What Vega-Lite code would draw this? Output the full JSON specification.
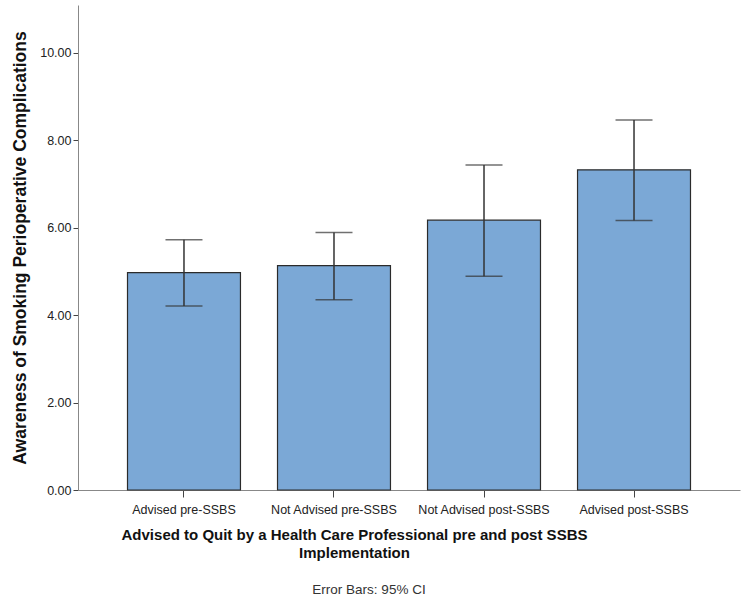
{
  "$schema": "https://vega.github.io/schema/vega-lite/v6.json",
  "width": 662,
  "height": 485,
  "autosize": "none",
  "padding": {"left": 78, "top": 5, "right": 8, "bottom": 111},
  "background": "white",
  "config": {
    "font": "Liberation Sans",
    "view": {"stroke": null},
    "axis": {"grid": false, "domainColor": "#888888", "tickColor": "#444444", "labelColor": "#222222", "titleColor": "#111111"}
  },
  "title": {
    "text": "Error Bars: 95% CI",
    "orient": "bottom",
    "anchor": "middle",
    "fontSize": 13.5,
    "fontWeight": "normal",
    "color": "#333333",
    "offset": 22,
    "dx": -40
  },
  "data": {
    "values": [
      {"group": "Advised pre-SSBS", "mean": 4.97, "lo": 4.21, "hi": 5.72},
      {"group": "Not Advised pre-SSBS", "mean": 5.13, "lo": 4.35, "hi": 5.89},
      {"group": "Not Advised post-SSBS", "mean": 6.17, "lo": 4.89, "hi": 7.43},
      {"group": "Advised post-SSBS", "mean": 7.32, "lo": 6.16, "hi": 8.46}
    ]
  },
  "encoding": {
    "x": {
      "field": "group",
      "type": "nominal",
      "sort": null,
      "scale": {"paddingInner": 0.247, "paddingOuter": 0.33},
      "axis": {
        "title": ["Advised to Quit by a Health Care Professional pre and post SSBS", "Implementation"],
        "titleFontSize": 15,
        "titleFontWeight": "bold",
        "titlePadding": 12,
        "titleLineHeight": 18,
        "titleX": 276,
        "labelAngle": 0,
        "labelFontSize": 12.5,
        "labelPadding": 6,
        "tickSize": 7,
        "tickColor": "#444444",
        "domainColor": "#888888"
      }
    }
  },
  "layer": [
    {
      "mark": {"type": "bar", "fill": "#7BA8D6", "stroke": "#2b2b2b", "strokeWidth": 1.2},
      "encoding": {
        "y": {
          "field": "mean",
          "type": "quantitative",
          "scale": {"domain": [0, 11.09], "nice": false},
          "axis": {
            "title": "Awareness of Smoking Perioperative Complications",
            "titleFontSize": 17.5,
            "titleFontWeight": "bold",
            "titlePadding": 10,
            "values": [0, 2, 4, 6, 8, 10],
            "format": ".2f",
            "labelFontSize": 12.5,
            "tickSize": 5,
            "labelPadding": 2
          }
        }
      }
    },
    {
      "mark": {"type": "rule", "color": "#333333", "strokeWidth": 1.5},
      "encoding": {
        "y": {"field": "lo", "type": "quantitative"},
        "y2": {"field": "hi"}
      }
    },
    {
      "mark": {"type": "tick", "color": "#333333", "size": 37, "thickness": 1.5, "orient": "horizontal"},
      "encoding": {"y": {"field": "lo", "type": "quantitative"}}
    },
    {
      "mark": {"type": "tick", "color": "#333333", "size": 37, "thickness": 1.5, "orient": "horizontal"},
      "encoding": {"y": {"field": "hi", "type": "quantitative"}}
    }
  ]
}
